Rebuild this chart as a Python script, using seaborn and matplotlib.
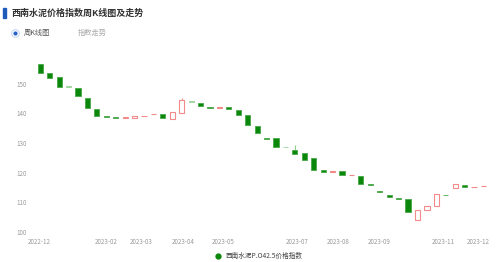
import matplotlib
matplotlib.use("Agg")
import matplotlib.pyplot as plt
from matplotlib.lines import Line2D
from matplotlib.patches import Rectangle
import seaborn as sns
import numpy as np
import pandas as pd

sns.set_theme(style="white")
plt.rcParams['font.family'] = ['Noto Sans CJK SC', 'DejaVu Sans']

# ---- data ----
opens = [156.5, 153.7, 152.1, 148.9, 148.6, 145.0, 141.4, 139.0, 138.7, 138.4,
         138.4, 138.9, 139.7, 139.7, 138.2, 140.0, 143.9, 143.3, 142.1, 141.9,
         142.0, 141.2, 139.4, 135.6, 131.7, 131.6, 128.6, 127.6, 126.5, 124.9,
         121.0, 120.2, 120.5, 119.1, 119.0, 116.0, 113.8, 112.5, 111.5, 111.1,
         104.2, 107.4, 108.8, 112.6, 114.8, 115.9, 115.1, 115.4]
closes = [153.5, 152.0, 148.8, 148.9, 145.8, 141.6, 139.1, 138.7, 138.5, 138.6,
          139.0, 139.1, 139.9, 138.3, 140.5, 144.5, 143.9, 142.4, 141.9, 142.1,
          141.4, 139.5, 135.9, 133.2, 131.4, 128.5, 128.6, 126.4, 124.2, 121.0,
          120.2, 120.4, 119.2, 119.3, 116.3, 115.8, 113.6, 111.7, 111.2, 106.6,
          107.4, 108.9, 112.7, 112.4, 116.1, 115.0, 115.3, 115.6]
highs = [max(o, c) for o, c in zip(opens, closes)]
lows = [min(o, c) for o, c in zip(opens, closes)]
highs[15] = 145.0
highs[27] = 129.3

tick_labels = ["2022-12", "2023-02", "2023-03", "2023-04", "2023-05",
               "2023-07", "2023-08", "2023-09", "2023-11", "2023-12"]
tick_index = [-0.1, 7.0, 10.75, 15.2, 19.4, 27.2, 31.6, 35.9, 42.7, 46.4]
y_ticks = [100, 110, 120, 130, 140, 150]

series_name = "西南水泥P.O42.5价格指数"
title = "西南水泥价格指数周K线图及走势"

df = pd.DataFrame({"i": np.arange(len(opens)), "open": opens, "close": closes,
                   "high": highs, "low": lows})
df["up"] = df["close"] > df["open"]
df["doji"] = df["close"] == df["open"]

W, H = 500, 262
fig = plt.figure(figsize=(W / 100, H / 100), dpi=100)
ax = fig.add_axes([35 / W, 1 - 232 / H, 455 / W, (232 - 55.3) / H])

green = "#0b870b"
green_edge = "#48a848"
red_edge = "#f28a8a"

# wicks
ax.vlines(df["i"], df["low"], df["high"],
          colors=[red_edge if u else "#8fd08f" for u in df["up"]], linewidth=0.8, zorder=1)

dn = df[~df["up"] & ~df["doji"]]
dn_doji = df[df["doji"]]
up = df[df["up"]]
ax.bar(dn["i"], (dn["open"] - dn["close"]).clip(lower=0.15), bottom=dn["close"], width=0.55,
       color=green, edgecolor=green_edge, linewidth=0.6, zorder=2)
ax.bar(dn_doji["i"], 0.15, bottom=dn_doji["close"], width=0.55,
       color="#9ad49a", edgecolor="#9ad49a", linewidth=0.6, zorder=2)
ax.bar(up["i"], (up["close"] - up["open"]).clip(lower=0.15), bottom=up["open"], width=0.55,
       color="white", edgecolor=red_edge, linewidth=0.8, zorder=2)

ax.set_xlim(-0.56, 47.69)
ax.set_ylim(100, 159.5)
ax.set_yticks(y_ticks)
ax.set_yticklabels([str(v) for v in y_ticks], fontsize=4.5, color="#9a9a9a")
ax.set_xticks(tick_index)
ax.set_xticklabels(tick_labels, fontsize=4.5, color="#9a9a9a")
ax.tick_params(axis="both", length=0, pad=4)
ax.tick_params(axis="y", pad=6)
for s in ax.spines.values():
    s.set_visible(False)
ax.grid(False)

# title block
fig.patches.append(Rectangle((3 / W, 1 - 18 / H), 2.5 / W, 10 / H, transform=fig.transFigure,
                             color="#1e5bb8"))
fig.text(12 / W, 1 - 13 / H, title, fontsize=6.5, fontweight="bold", color="#333333",
         va="center", ha="left")

# radio buttons
fig.add_artist(Line2D([15 / W], [1 - 33 / H], transform=fig.transFigure, marker="o",
                      markersize=5.5, markerfacecolor="white", markeredgecolor="#c4d3ee",
                      markeredgewidth=0.7, linestyle="none"))
fig.add_artist(Line2D([15 / W], [1 - 33 / H], transform=fig.transFigure, marker="o",
                      markersize=3.0, markerfacecolor="#2a63c6", markeredgecolor="none",
                      linestyle="none"))
fig.text(24 / W, 1 - 33 / H, "周K线图", fontsize=5.2, color="#555555", va="center", ha="left")
fig.text(78 / W, 1 - 33 / H, "指数走势", fontsize=5.2, color="#aaaaaa", va="center", ha="left")

# legend
handle = Line2D([], [], marker="o", linestyle="none", markersize=3.5, color="#0b870b")
fig.legend([handle], [series_name], loc="center", bbox_to_anchor=(257 / W, 1 - 256 / H),
           frameon=False, fontsize=4.8, handletextpad=0.2, borderaxespad=0,
           labelcolor="#444444")

fig.savefig("out.png", dpi=100)
